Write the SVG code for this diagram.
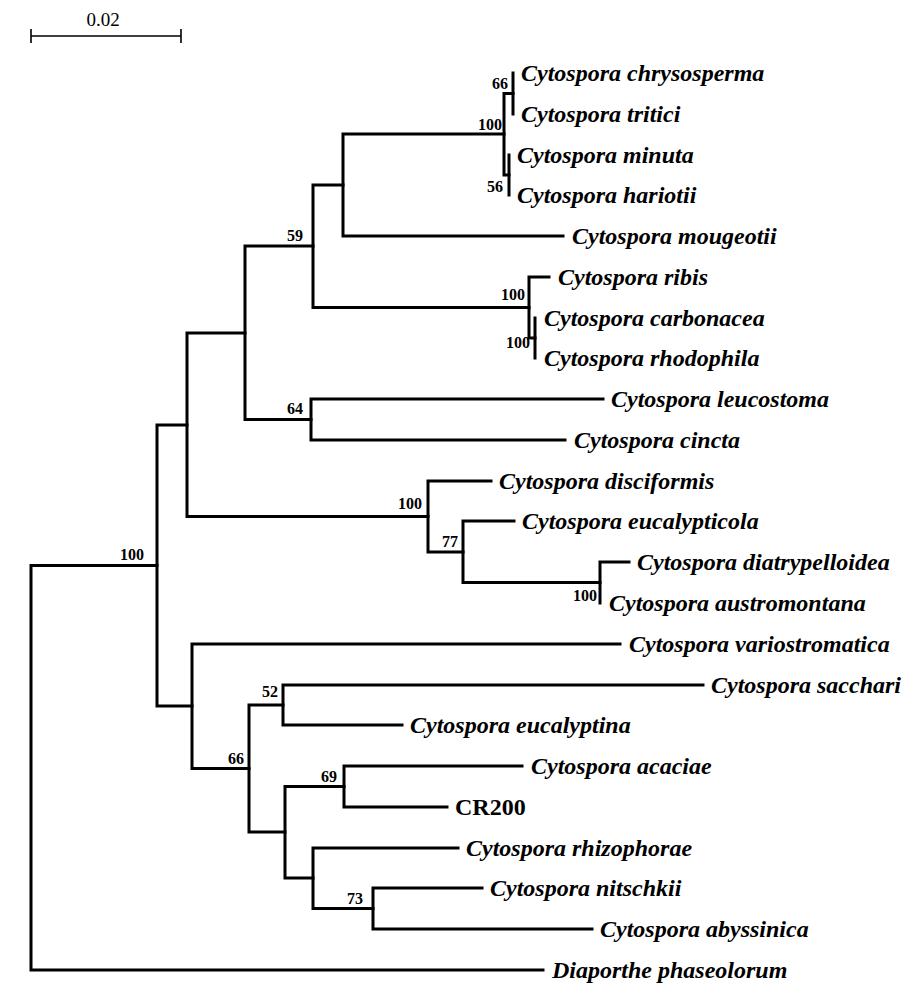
<svg xmlns="http://www.w3.org/2000/svg" width="919" height="1000" viewBox="0 0 919 1000">
<style>
.br{fill:none;stroke:#000;stroke-width:3;stroke-linecap:square;stroke-linejoin:miter}
.sc{fill:none;stroke:#000;stroke-width:1.6}
.tx{font-family:"Liberation Serif",serif;font-size:24px;font-weight:bold;font-style:italic;fill:#000}
.cr{font-family:"Liberation Serif",serif;font-size:24px;font-weight:bold;fill:#000}
.bs{font-family:"Liberation Serif",serif;font-size:16px;font-weight:bold;fill:#000;text-anchor:end}
.sl{font-family:"Liberation Serif",serif;font-size:19px;fill:#000;text-anchor:middle}
</style>
<rect width="919" height="1000" fill="#fff"/>
<g id="scale">
<path class="sc" d="M31 36H181M31 29V43M181 29V43"/>
<text class="sl" x="103" y="26">0.02</text>
</g>
<g id="connectors">
<path class="br" d="M513 73V114"/>
<path class="br" d="M509 155V195"/>
<path class="br" d="M513 93.5H504V175H509"/>
<path class="br" d="M504 134H343V236H563"/>
<path class="br" d="M535 318V358"/>
<path class="br" d="M549 277H529V338H535"/>
<path class="br" d="M343 185H313V307.5H529"/>
<path class="br" d="M603 399H311V440H565"/>
<path class="br" d="M313 246H245V419.5H311"/>
<path class="br" d="M629 562H600V603"/>
<path class="br" d="M514 521H463V582.5H600"/>
<path class="br" d="M491 481H428V552H463"/>
<path class="br" d="M245 333H187V516.5H428"/>
<path class="br" d="M703 685H283V725H402"/>
<path class="br" d="M522 766H344V807H447"/>
<path class="br" d="M482 888H373V929H592"/>
<path class="br" d="M458 848H313V908.5H373"/>
<path class="br" d="M344 786.5H285V878H313"/>
<path class="br" d="M283 705H249V832H285"/>
<path class="br" d="M620 644H192V768.5H249"/>
<path class="br" d="M187 425H157V706H192"/>
<path class="br" d="M157 565.5H31V970H543"/>
</g>
<g id="bootstrap">
<text class="bs" x="508" y="89">66</text>
<text class="bs" x="502" y="130">100</text>
<text class="bs" x="503" y="192">56</text>
<text class="bs" x="303" y="241">59</text>
<text class="bs" x="525" y="300">100</text>
<text class="bs" x="530" y="348">100</text>
<text class="bs" x="303" y="414">64</text>
<text class="bs" x="422" y="509">100</text>
<text class="bs" x="458" y="547">77</text>
<text class="bs" x="597" y="601">100</text>
<text class="bs" x="144" y="560">100</text>
<text class="bs" x="278" y="697">52</text>
<text class="bs" x="244" y="764">66</text>
<text class="bs" x="337" y="782">69</text>
<text class="bs" x="363" y="904">73</text>
</g>
<g id="leaf-chrysosperma"><text class="tx" x="521" y="81">Cytospora chrysosperma</text></g>
<g id="leaf-tritici"><text class="tx" x="521" y="122">Cytospora tritici</text></g>
<g id="leaf-minuta"><text class="tx" x="517" y="163">Cytospora minuta</text></g>
<g id="leaf-hariotii"><text class="tx" x="517" y="203">Cytospora hariotii</text></g>
<g id="leaf-mougeotii"><text class="tx" x="572" y="244">Cytospora mougeotii</text></g>
<g id="leaf-ribis"><text class="tx" x="558" y="285">Cytospora ribis</text></g>
<g id="leaf-carbonacea"><text class="tx" x="544" y="326">Cytospora carbonacea</text></g>
<g id="leaf-rhodophila"><text class="tx" x="544" y="366">Cytospora rhodophila</text></g>
<g id="leaf-leucostoma"><text class="tx" x="611" y="407">Cytospora leucostoma</text></g>
<g id="leaf-cincta"><text class="tx" x="574" y="448">Cytospora cincta</text></g>
<g id="leaf-disciformis"><text class="tx" x="499" y="489">Cytospora disciformis</text></g>
<g id="leaf-eucalypticola"><text class="tx" x="522" y="529">Cytospora eucalypticola</text></g>
<g id="leaf-diatrypelloidea"><text class="tx" x="637" y="570">Cytospora diatrypelloidea</text></g>
<g id="leaf-austromontana"><text class="tx" x="609" y="611">Cytospora austromontana</text></g>
<g id="leaf-variostromatica"><text class="tx" x="629" y="652">Cytospora variostromatica</text></g>
<g id="leaf-sacchari"><text class="tx" x="711" y="693">Cytospora sacchari</text></g>
<g id="leaf-eucalyptina"><text class="tx" x="410" y="733">Cytospora eucalyptina</text></g>
<g id="leaf-acaciae"><text class="tx" x="531" y="774">Cytospora acaciae</text></g>
<g id="leaf-CR200"><text class="cr" x="455" y="815">CR200</text></g>
<g id="leaf-rhizophorae"><text class="tx" x="466" y="856">Cytospora rhizophorae</text></g>
<g id="leaf-nitschkii"><text class="tx" x="490" y="896">Cytospora nitschkii</text></g>
<g id="leaf-abyssinica"><text class="tx" x="600" y="937">Cytospora abyssinica</text></g>
<g id="leaf-diaporthe"><text class="tx" x="552" y="978">Diaporthe phaseolorum</text></g>
</svg>
